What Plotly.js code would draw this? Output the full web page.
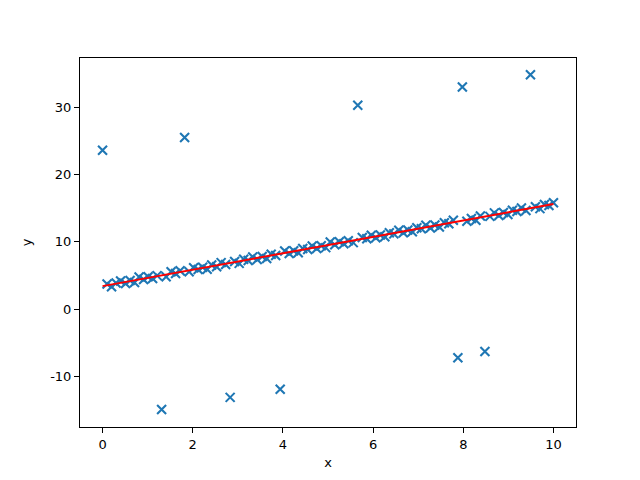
<!DOCTYPE html>
<html>
<head>
<meta charset="utf-8">
<script src="https://cdn.plot.ly/plotly-3.0.1.min.js"></script>
<style>html,body{margin:0;padding:0;background:#fff;}#chart{width:640px;height:480px;}</style>
</head>
<body>
<div id="chart"></div>
<script>
// Data points (x evenly spaced 0..10, 100 points; includes 10 outliers)
var xData = [0.00,0.10,0.20,0.30,0.40,0.51,0.61,0.71,0.81,0.91,
             1.01,1.11,1.21,1.31,1.41,1.52,1.62,1.72,1.82,1.92,
             2.02,2.12,2.22,2.32,2.42,2.53,2.63,2.73,2.83,2.93,
             3.03,3.13,3.23,3.33,3.43,3.54,3.64,3.74,3.84,3.94,
             4.04,4.14,4.24,4.34,4.44,4.55,4.65,4.75,4.85,4.95,
             5.05,5.15,5.25,5.35,5.45,5.56,5.66,5.76,5.86,5.96,
             6.06,6.16,6.26,6.36,6.46,6.57,6.67,6.77,6.87,6.97,
             7.07,7.17,7.27,7.37,7.47,7.58,7.68,7.78,7.88,7.98,
             8.08,8.18,8.28,8.38,8.48,8.59,8.69,8.79,8.89,8.99,
             9.09,9.19,9.29,9.39,9.49,9.60,9.70,9.80,9.90,10.00];
var yData = [23.6,3.72,3.34,3.87,4.19,3.82,4.24,3.97,4.79,4.41,
             4.83,4.55,4.98,-14.9,4.82,5.55,5.28,5.70,25.5,5.54,
             6.16,5.89,6.21,5.93,6.55,6.29,6.91,6.63,-13.1,7.07,
             6.80,7.42,7.24,7.76,7.38,7.82,7.54,8.16,7.98,-11.9,
             8.63,8.25,8.67,8.39,9.02,8.85,9.37,9.00,9.42,9.14,
             9.96,9.58,10.01,9.73,10.15,9.88,30.3,10.63,10.45,10.97,
             10.59,11.02,10.74,11.36,11.18,11.72,11.34,11.76,11.48,12.10,
             11.93,12.45,12.07,12.49,12.21,12.85,12.67,13.19,-7.2,33.0,
             13.06,13.48,13.20,13.82,-6.3,13.78,14.30,13.92,14.35,14.07,
             14.69,14.51,15.03,14.66,34.8,15.21,14.93,15.56,15.38,15.80];
// Fitted line
var fitX = [0, 10];
var fitY = [3.42, 15.62];

var xTicks = [0, 2, 4, 6, 8, 10];
var yTicks = [-10, 0, 10, 20, 30];

var traces = [
  {
    x: xData, y: yData, type: 'scatter', mode: 'markers',
    marker: {symbol: 'x-thin', size: 9, color: '#1f77b4', line: {width: 2.1, color: '#1f77b4'}},
    hoverinfo: 'none', showlegend: false
  },
  {
    x: fitX, y: fitY, type: 'scatter', mode: 'lines',
    line: {color: '#ff0000', width: 2},
    hoverinfo: 'none', showlegend: false
  }
];

var axisCommon = {
  showgrid: false, zeroline: false, showline: true, mirror: true,
  linecolor: '#000', linewidth: 1, ticks: 'outside', ticklen: 5, tickwidth: 1,
  tickcolor: '#000', tickfont: {family: 'DejaVu Sans', size: 13, color: '#000'}
};

var layout = {
  width: 640, height: 480,
  margin: {l: 80, r: 64, t: 58, b: 53},
  paper_bgcolor: '#fff', plot_bgcolor: '#fff',
  font: {family: 'DejaVu Sans', size: 13, color: '#000'},
  xaxis: Object.assign({}, axisCommon, {
    range: [-0.5, 10.5], tickvals: xTicks, ticktext: xTicks.map(String),
    title: {text: 'x', font: {family: 'DejaVu Sans', size: 13}, standoff: 7}
  }),
  yaxis: Object.assign({}, axisCommon, {
    range: [-17.5, 37.3], tickvals: yTicks, ticktext: yTicks.map(String),
    title: {text: 'y', font: {family: 'DejaVu Sans', size: 13}, standoff: 15}
  })
};

Plotly.newPlot('chart', traces, layout, {staticPlot: true, displayModeBar: false});
</script>
</body>
</html>
